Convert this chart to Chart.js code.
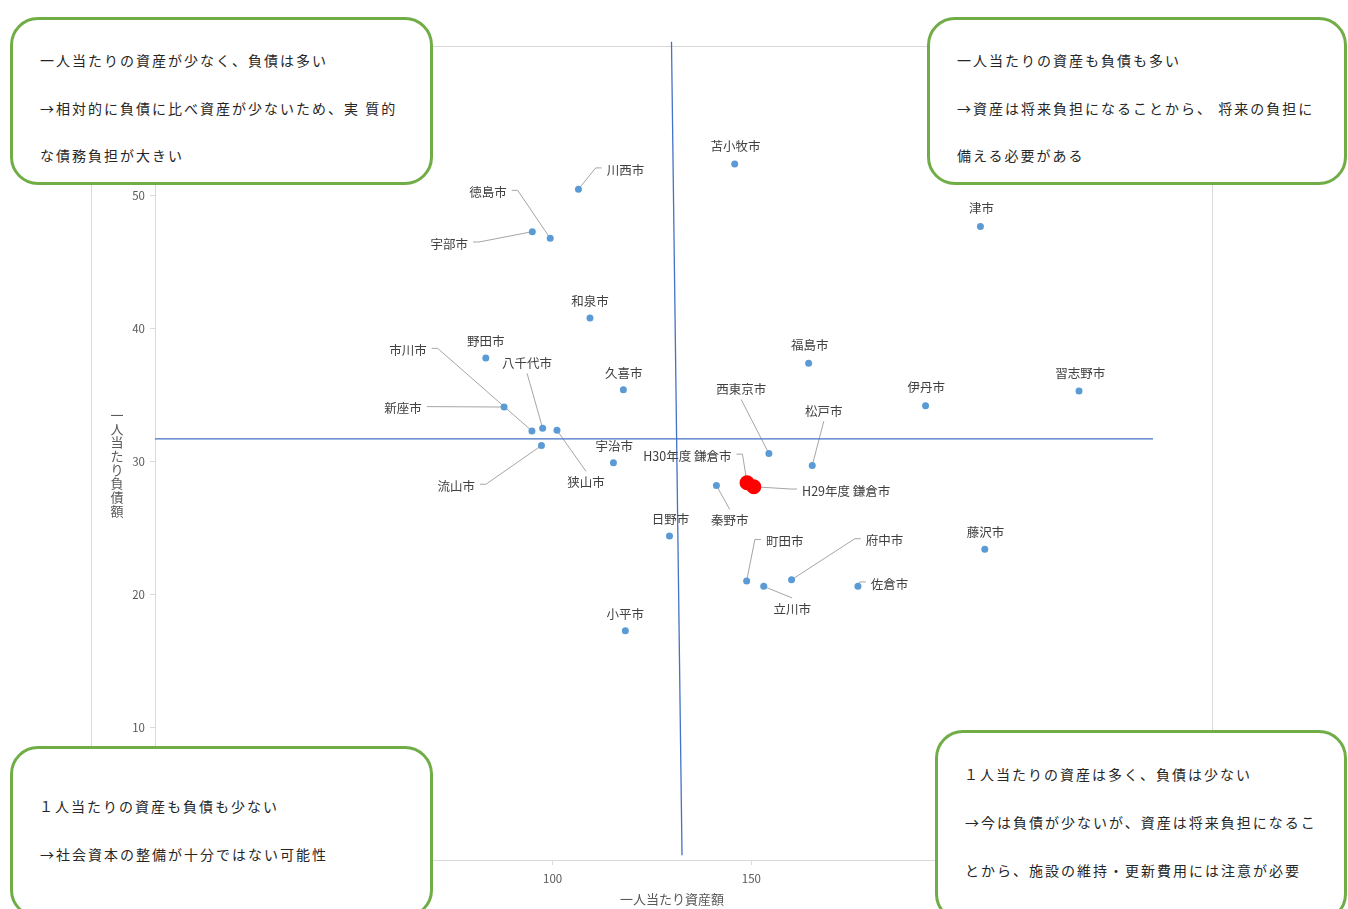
<!DOCTYPE html>
<html lang="ja">
<head>
<meta charset="utf-8">
<script src="https://cdn.jsdelivr.net/npm/chart.js@4"></script>
<style>
html,body{margin:0;padding:0;background:#fff;overflow:hidden;width:1348px;height:909px;}
#wrap{position:relative;width:1348px;height:909px;}
#c{position:absolute;left:0;top:0;}
.box{position:absolute;box-sizing:border-box;border:3px solid #70AD47;border-radius:28px;background:#fff;
  font-family:"Noto Sans CJK JP","Noto Sans",sans-serif;font-size:14px;letter-spacing:2px;color:#262626;}
.box div{position:absolute;white-space:pre;line-height:20px;}
</style>
</head>
<body>
<div id="wrap">
<canvas id="c" width="1348" height="909"></canvas>
<div class="box" style="left:10px;top:17px;width:423px;height:168px;">
  <div style="left:27px;top:30px;">一人当たりの資産が少なく、負債は多い</div>
  <div style="left:27px;top:78px;">→相対的に負債に比べ資産が少ないため、実 質的</div>
  <div style="left:27px;top:125px;">な債務負担が大きい</div>
</div>
<div class="box" style="left:927px;top:17px;width:420px;height:168px;">
  <div style="left:27px;top:30px;">一人当たりの資産も負債も多い</div>
  <div style="left:27px;top:78px;">→資産は将来負担になることから、 将来の負担に</div>
  <div style="left:27px;top:125px;">備える必要がある</div>
</div>
<div class="box" style="left:10px;top:746px;width:423px;height:172px;">
  <div style="left:26px;top:47px;">１人当たりの資産も負債も少ない</div>
  <div style="left:27px;top:95px;">→社会資本の整備が十分ではない可能性</div>
</div>
<div class="box" style="left:935px;top:730px;width:412px;height:192px;">
  <div style="left:26px;top:31px;">１人当たりの資産は多く、負債は少ない</div>
  <div style="left:27px;top:79px;">→今は負債が少ないが、資産は将来負担になるこ</div>
  <div style="left:27px;top:127px;">とから、施設の維持・更新費用には注意が必要</div>
</div>
</div>
<script>
// ---- data ----
const cities = ['苫小牧市','川西市','徳島市','宇部市','津市','和泉市','野田市','福島市','久喜市','習志野市',
  '伊丹市','新座市','市川市','八千代市','狭山市','流山市','宇治市','西東京市','松戸市','秦野市',
  '日野市','藤沢市','町田市','府中市','立川市','佐倉市','小平市'];
const assets = [145.8,106.5,99.4,94.9,207.6,109.4,83.2,164.4,117.8,232.4,
  193.8,87.8,94.8,97.5,101.1,97.2,115.3,154.4,165.3,141.2,
  129.4,208.7,148.8,160.1,153.1,176.8,118.3];
const liabilities = [52.4,50.5,46.8,47.3,47.7,40.8,37.8,37.4,35.4,35.3,
  34.2,34.1,32.3,32.5,32.35,31.2,29.9,30.6,29.7,28.2,
  24.4,23.4,21.0,21.1,20.6,20.6,17.25];
const kamakuraLabels = ['H30年度 鎌倉市','H29年度 鎌倉市'];
const kamakuraAssets = [148.9,150.6];
const kamakuraLiabilities = [28.4,28.1];
// average reference lines
const avgAssetX = [129.9,132.55];
const avgAssetY = [61.6,0.36];
const avgDebtX = [0,251];
const avgDebtY = [31.7,31.7];
const xTickStep = 50, xMin = 0, xMax = 250;
const yTickStep = 10, yMin = 0, yMax = 60;
const xTitle = '一人当たり資産額';
const yTitle = '一人当たり負債額';

// ---- label layout: [dx, dy, leader side] relative to the point (pixels) ----
const cityLabelLayout = [
  [0.7,-18,'none'],[47,-19.3,'left'],[-62.3,-46,'right'],[-83,12.3,'right'],[1,-18,'none'],
  [0,-17,'none'],[0,-16.6,'none'],[1,-17.7,'none'],[0.3,-17,'none'],[1.3,-17.7,'none'],
  [0.7,-18,'none'],[-101,1.6,'right'],[-124,-80.6,'right'],[-15.6,-65,'bottom'],[29,52,'top'],
  [-85.3,40.7,'right'],[0.7,-17,'none'],[-27.7,-64,'bottom'],[11.6,-54.4,'bottom'],[13.3,35,'top'],
  [1,-16.7,'none'],[0.7,-17,'none'],[38,-39.6,'left'],[93,-39,'left'],[28.4,22.6,'top'],
  [31.6,-2.4,'left'],[0,-16.7,'none']
];
const kamakuraLabelLayout = [[-59.7,-26.6,'right'],[92.4,4.3,'left']];

const FONT = '"Noto Sans CJK JP","Noto Sans",sans-serif';
const LABEL_FONT = '12.5px ' + FONT;

function labelInfo(datasetIndex){
  if (datasetIndex === 0) return {names: cities, layout: cityLabelLayout};
  if (datasetIndex === 1) return {names: kamakuraLabels, layout: kamakuraLabelLayout};
  return null;
}

const labelPlugin = {
  id: 'pointLabels',
  beforeDatasetsDraw(chart){
    const ctx = chart.ctx;
    ctx.save();
    ctx.font = LABEL_FONT;
    ctx.strokeStyle = '#a6a6a6';
    ctx.lineWidth = 1;
    [0,1].forEach(di => {
      const info = labelInfo(di);
      chart.getDatasetMeta(di).data.forEach((pt, i) => {
        const [dx, dy, side] = info.layout[i];
        if (side === 'none') return;
        const cx = pt.x + dx, cy = pt.y + dy;
        const w = ctx.measureText(info.names[i]).width;
        let path;
        if (side === 'left') { const sx = cx - w/2 - 5; path = [[sx, cy-2],[sx-6, cy-2],[pt.x, pt.y]]; }
        else if (side === 'right') { const sx = cx + w/2 + 5; path = [[sx, cy-2],[sx+6, cy-2],[pt.x, pt.y]]; }
        else if (side === 'top') { path = [[cx, cy-11],[pt.x, pt.y]]; }
        else { path = [[cx, cy+10],[pt.x, pt.y]]; }
        ctx.beginPath();
        ctx.moveTo(path[0][0], path[0][1]);
        for (let k=1;k<path.length;k++) ctx.lineTo(path[k][0], path[k][1]);
        ctx.stroke();
      });
    });
    ctx.restore();
  },
  afterDatasetsDraw(chart){
    const ctx = chart.ctx;
    ctx.save();
    ctx.font = LABEL_FONT;
    ctx.fillStyle = '#404040';
    ctx.textAlign = 'center';
    ctx.textBaseline = 'middle';
    [0,1].forEach(di => {
      const info = labelInfo(di);
      chart.getDatasetMeta(di).data.forEach((pt, i) => {
        const [dx, dy] = info.layout[i];
        ctx.fillText(info.names[i], pt.x + dx, pt.y + dy);
      });
    });
    ctx.restore();
  },
  beforeDraw(chart){
    const ctx = chart.ctx;
    ctx.save();
    ctx.fillStyle = '#fff';
    ctx.fillRect(0,0,chart.width,chart.height);
    ctx.strokeStyle = '#d9d9d9';
    ctx.lineWidth = 1;
    ctx.strokeRect(91.5, 46.5, 1121, 900);
    ctx.restore();
  },
  afterDraw(chart){
    const ctx = chart.ctx;
    ctx.save();
    ctx.fillStyle = '#595959';
    ctx.font = '13px ' + FONT;
    ctx.textAlign = 'center';
    ctx.textBaseline = 'middle';
    ctx.fillText(xTitle, 672, 899);
    const chars = Array.from(yTitle);
    const step = 13.7;
    const y0 = 463 - step*(chars.length-1)/2;
    chars.forEach((ch, k) => ctx.fillText(ch, 117, y0 + k*step));
    ctx.restore();
  }
};

new Chart(document.getElementById('c'), {
  type: 'scatter',
  data: {
    datasets: [
      {
        label: '市',
        data: cities.map((c,i) => ({x: assets[i], y: liabilities[i]})),
        backgroundColor: '#5B9BD5', borderColor: '#5B9BD5',
        pointRadius: 3.5, pointBorderWidth: 0, order: 2
      },
      {
        label: '鎌倉市',
        data: kamakuraLabels.map((c,i) => ({x: kamakuraAssets[i], y: kamakuraLiabilities[i]})),
        backgroundColor: '#FF0000', borderColor: '#FF0000',
        pointRadius: 7.5, pointBorderWidth: 0, order: 1
      },
      {
        type: 'line', label: '平均資産',
        data: avgAssetX.map((x,i) => ({x, y: avgAssetY[i]})),
        borderColor: '#4472C4', borderWidth: 1.3, pointRadius: 0, showLine: true, clip: false, order: 3
      },
      {
        type: 'line', label: '平均負債',
        data: avgDebtX.map((x,i) => ({x, y: avgDebtY[i]})),
        borderColor: '#4472C4', borderWidth: 1.3, pointRadius: 0, showLine: true, clip: false, order: 3
      }
    ]
  },
  options: {
    responsive: false,
    animation: false,
    devicePixelRatio: 1,
    layout: {padding: {left: 0, top: 63, right: 199, bottom: 0}},
    plugins: {legend: {display: false}, tooltip: {enabled: false}},
    scales: {
      x: {
        type: 'linear', min: xMin, max: xMax,
        ticks: {stepSize: xTickStep, color: '#595959', font: {size: 11.5, family: FONT}, padding: 7},
        grid: {drawOnChartArea: false, tickLength: 5, color: '#d9d9d9'},
        border: {color: '#d9d9d9'},
        afterFit(s){ s.height = 49; }
      },
      y: {
        type: 'linear', min: yMin, max: yMax,
        ticks: {stepSize: yTickStep, color: '#595959', font: {size: 11.5, family: FONT}, padding: 5},
        grid: {drawOnChartArea: false, tickLength: 5, color: '#d9d9d9'},
        border: {color: '#d9d9d9'},
        afterFit(s){ s.width = 155; }
      }
    }
  },
  plugins: [labelPlugin]
});
</script>
</body>
</html>
